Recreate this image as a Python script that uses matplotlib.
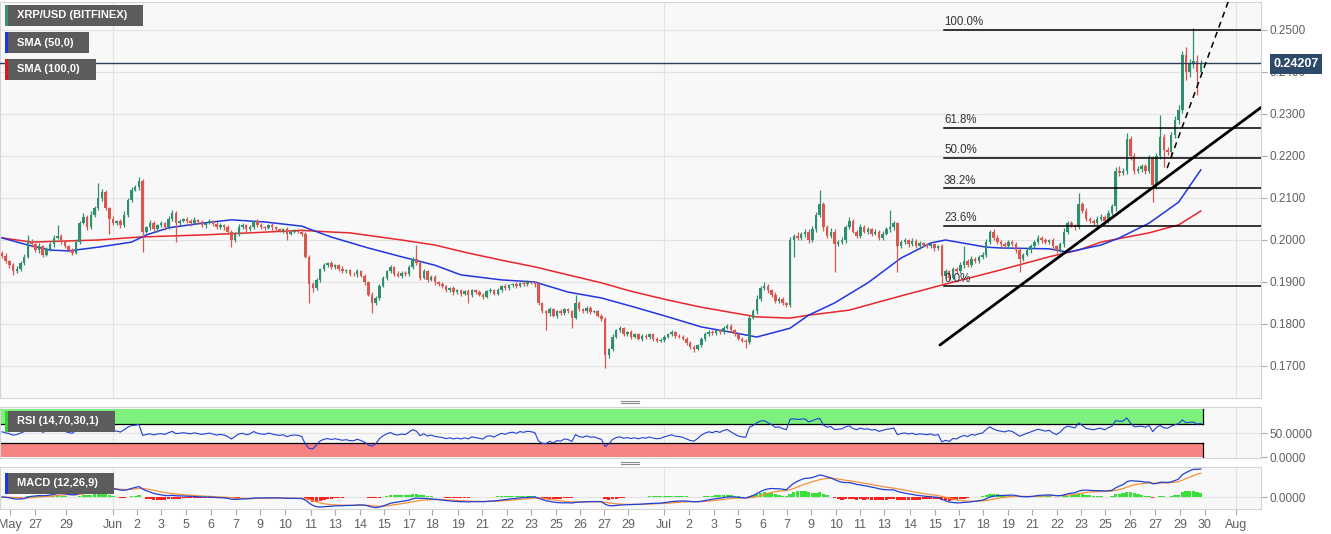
import numpy as np
import pandas as pd
import matplotlib
matplotlib.use("Agg")
import matplotlib.pyplot as plt
from matplotlib.patches import Rectangle

# XRP/USD closes, in pips (1e-4 USD), one per candle
close_pips = [
    1962, 1950, 1940, 1925, 1930, 1945, 1960, 1998, 1990, 1975, 1985, 1965, 1978, 1990, 2005, 2010, 1995, 1985, 1975, 1970, 1995, 2040, 2055, 2030, 2060,
    2075, 2100, 2115, 2075, 2050, 2040, 2045, 2035, 2060, 2095, 2120, 2125, 2140, 2020, 2030, 2040, 2025, 2035, 2040, 2030, 2050, 2065, 2040, 2045, 2050,
    2045, 2040, 2048, 2042, 2035, 2040, 2045, 2038, 2030, 2035, 2030, 2020, 2000, 2015, 2030, 2035, 2025, 2030, 2045, 2035, 2030, 2028, 2035, 2030, 2025,
    2022, 2025, 2015, 2020, 2022, 2020, 2015, 1960, 1895, 1885, 1905, 1930, 1940, 1945, 1935, 1940, 1932, 1925, 1928, 1920, 1918, 1925, 1915, 1900, 1870,
    1850, 1862, 1890, 1910, 1925, 1935, 1920, 1915, 1922, 1918, 1935, 1955, 1945, 1910, 1925, 1905, 1912, 1900, 1895, 1890, 1880, 1885, 1875, 1880, 1872,
    1878, 1870, 1880, 1875, 1870, 1865, 1878, 1880, 1872, 1882, 1890, 1885, 1892, 1895, 1890, 1898, 1895, 1900, 1898, 1895, 1850, 1830, 1825, 1835, 1820,
    1830, 1825, 1835, 1830, 1815, 1850, 1835, 1830, 1838, 1828, 1830, 1820, 1812, 1725, 1740, 1770, 1785, 1790, 1775, 1780, 1770, 1775, 1765, 1772, 1768,
    1775, 1765, 1760, 1762, 1770, 1775, 1780, 1772, 1770, 1765, 1755, 1745, 1740, 1750, 1765, 1775, 1782, 1778, 1785, 1780, 1790, 1795, 1785, 1775, 1765,
    1760, 1758, 1815, 1830, 1860, 1885, 1890, 1880, 1870, 1855, 1860, 1850, 1845, 2000, 2010, 2005, 2015, 2020, 2000, 2025, 2060, 2085, 2030, 2010, 2020,
    1990, 1995, 2000, 2030, 2045, 2020, 2010, 2030, 2020, 2025, 2015, 2020, 2005, 2015, 2025, 2030, 2040, 1985, 1995, 2000, 1990, 1998, 1985, 1992, 1988,
    1985, 1990, 1980, 1985, 1915, 1925, 1910, 1930, 1925, 1940, 1950, 1940, 1955, 1950, 1960, 1965, 1995, 2020, 2005, 1995, 1990, 1985, 1995, 1990, 1975,
    1955, 1965, 1975, 1985, 1995, 2005, 2000, 1995, 2000, 1985, 1975, 1990, 2020, 2040, 2035, 2030, 2085, 2070, 2050, 2045, 2040, 2050, 2055, 2045, 2065,
    2080, 2165, 2160, 2165, 2240, 2200, 2165, 2170, 2175, 2165, 2195, 2130, 2200, 2245, 2215, 2210, 2250, 2285, 2310, 2440, 2400, 2420, 2425, 2400, 2421,
]
first_open_pips = 1970

# wick length above / below the body, pips
hi_wick = [
    4, 6, 3, 5, 8, 4, 6, 14, 5, 4, 7, 3, 6, 5, 8, 26, 4, 6, 3, 5, 7, 6, 9, 5, 8,
    6, 36, 7, 5, 4, 6, 3, 5, 8, 6, 7, 5, 10, 6, 4, 8, 5, 3, 6, 4, 7, 6, 5, 4, 3,
    5, 4, 6, 3, 5, 4, 6, 3, 4, 5, 3, 6, 4, 5, 7, 5, 3, 6, 3, 4, 5, 3, 4, 6, 3,
    4, 3, 5, 3, 4, 3, 5, 3, 4, 6, 5, 4, 6, 3, 5, 4, 3, 5, 4, 3, 4, 6, 3, 4, 3,
    5, 4, 6, 5, 4, 6, 3, 5, 4, 3, 6, 5, 33, 4, 6, 3, 5, 4, 3, 5, 4, 3, 5, 4, 3,
    4, 5, 3, 4, 5, 3, 4, 5, 3, 4, 3, 5, 4, 3, 4, 3, 5, 4, 3, 4, 5, 3, 4, 6, 3,
    4, 5, 3, 4, 3, 19, 4, 3, 5, 4, 3, 4, 3, 5, 4, 6, 4, 5, 3, 4, 5, 3, 4, 3, 4,
    3, 4, 3, 5, 4, 3, 5, 4, 3, 4, 3, 5, 4, 3, 4, 5, 3, 4, 3, 4, 5, 5, 4, 3, 4,
    3, 4, 6, 5, 8, 6, 10, 5, 4, 6, 5, 4, 3, 6, 5, 8, 4, 6, 5, 9, 7, 34, 6, 5, 8,
    6, 5, 8, 6, 9, 5, 4, 7, 5, 6, 4, 5, 3, 6, 5, 41, 5, 4, 6, 5, 3, 6, 4, 5, 3,
    4, 5, 3, 4, 6, 5, 4, 6, 5, 8, 35, 5, 6, 4, 5, 6, 8, 4, 5, 6, 4, 5, 6, 4, 5,
    5, 4, 6, 5, 4, 6, 5, 4, 3, 5, 4, 6, 8, 5, 6, 4, 27, 5, 6, 4, 5, 6, 8, 5, 6,
    6, 8, 10, 7, 15, 8, 6, 5, 7, 6, 8, 5, 6, 53, 7, 6, 8, 10, 12, 10, 20, 12, 80, 15, 8,
]
lo_wick = [
    5, 4, 6, 8, 3, 5, 4, 3, 6, 4, 5, 5, 3, 4, 6, 3, 5, 4, 3, 6, 4, 5, 3, 6, 4,
    5, 4, 6, 3, 35, 5, 4, 6, 3, 5, 4, 3, 5, 49, 4, 6, 3, 5, 4, 6, 3, 4, 45, 5, 3,
    4, 6, 3, 5, 4, 6, 3, 5, 4, 3, 6, 5, 17, 4, 5, 3, 6, 4, 5, 3, 4, 5, 3, 6, 4,
    3, 5, 15, 4, 3, 4, 5, 3, 45, 8, 5, 4, 3, 5, 4, 3, 5, 4, 3, 6, 4, 5, 3, 6, 4,
    24, 5, 4, 3, 5, 4, 6, 3, 5, 4, 3, 4, 5, 6, 4, 5, 3, 6, 4, 5, 3, 4, 5, 3, 6,
    4, 20, 5, 3, 4, 6, 3, 5, 4, 3, 5, 4, 3, 5, 4, 3, 5, 4, 3, 6, 5, 4, 39, 5, 4,
    5, 4, 3, 5, 25, 4, 5, 3, 4, 5, 3, 4, 6, 30, 5, 4, 3, 5, 4, 3, 5, 4, 3, 5, 4,
    3, 5, 4, 3, 5, 4, 3, 5, 4, 3, 5, 4, 7, 3, 4, 5, 3, 4, 5, 3, 4, 3, 5, 4, 3,
    4, 15, 5, 4, 6, 5, 4, 6, 5, 4, 6, 5, 4, 5, 40, 6, 5, 8, 6, 5, 7, 6, 8, 6, 5,
    66, 5, 4, 6, 5, 4, 6, 5, 4, 6, 5, 4, 6, 5, 4, 5, 6, 61, 5, 4, 6, 5, 4, 6, 5,
    4, 5, 6, 4, 17, 5, 6, 4, 5, 4, 6, 5, 4, 5, 4, 6, 5, 4, 5, 4, 6, 5, 4, 5, 6,
    31, 5, 4, 6, 5, 4, 6, 5, 4, 6, 5, 4, 6, 5, 4, 6, 5, 6, 5, 4, 6, 5, 4, 6, 5,
    6, 10, 8, 6, 8, 10, 8, 6, 7, 8, 6, 40, 8, 7, 41, 8, 7, 8, 10, 8, 20, 12, 10, 55, 8,
]

# moving averages (candle index, price)
sma50_idx = [0, 7, 13, 18, 26, 35, 39, 45, 54, 62, 71, 81, 89, 99, 108, 117, 124, 135, 144, 153, 162, 171,
             180, 189, 198, 204, 213, 218, 225, 234, 243, 251, 255, 266, 270, 283, 288, 297, 302, 310, 318, 324]
sma50_val = [0.2005, 0.1988, 0.1976, 0.1974, 0.1983, 0.1995, 0.2012, 0.2029, 0.2040, 0.2048, 0.2043, 0.2033,
             0.2007, 0.1981, 0.1960, 0.1940, 0.1917, 0.1905, 0.1900, 0.1876, 0.1862, 0.1840, 0.1817, 0.1793,
             0.1779, 0.1769, 0.1790, 0.1821, 0.1850, 0.1898, 0.1957, 0.1993, 0.2000, 0.1983, 0.1981, 0.1979,
             0.1971, 0.1988, 0.2005, 0.2040, 0.2090, 0.2167]
sma100_idx = [0, 8, 26, 37, 54, 67, 81, 89, 94, 108, 117, 126, 135, 144, 153, 162, 170, 180, 189, 198, 204,
              213, 218, 229, 243, 255, 270, 283, 291, 297, 310, 318, 324]
sma100_val = [0.2005, 0.1995, 0.2000, 0.2007, 0.2012, 0.2017, 0.2023, 0.2019, 0.2017, 0.2000, 0.1988, 0.1969,
              0.1952, 0.1936, 0.1917, 0.1898, 0.1878, 0.1857, 0.1840, 0.1826, 0.1817, 0.1814, 0.1821, 0.1833,
              0.1867, 0.1895, 0.1929, 0.1960, 0.1976, 0.1995, 0.2017, 0.2036, 0.2069]

# RSI averages carried in from before the first candle
rsi_seed_gain, rsi_seed_loss = 0.0012, 0.0010

last_price = 0.24207
fib_low, fib_high = 0.1890, 0.2500
fib_ratios = [1.0, 0.618, 0.5, 0.382, 0.236, 0.0]
fib_names = ["100.0%", "61.8%", "50.0%", "38.2%", "23.6%", "0.0%"]
trend_x, trend_y = [253.5, 340.5], [0.1750, 0.2317]
dash_x, dash_y = [314.9, 331.4], [0.2171, 0.2567]

tick_labels = ["May", "27", "29", "Jun", "2", "3", "5", "6", "7", "9", "10", "11", "13", "14", "15", "17", "18",
               "19", "21", "22", "23", "25", "26", "27", "29", "Jul", "2", "3", "5", "6", "7", "9", "10", "11",
               "13", "14", "15", "17", "18", "19", "21", "22", "23", "25", "26", "27", "29", "30", "Aug"]
tick_px = [10, 35, 66, 113, 137, 161, 186, 211, 236, 260, 285, 311, 335, 360, 384, 409, 432, 458, 482, 507, 531,
           556, 580, 604, 628, 664, 689, 714, 738, 763, 787, 811, 836, 860, 884, 910, 935, 959, 983, 1008, 1032,
           1057, 1081, 1105, 1130, 1155, 1180, 1205, 1236]
month_px = [113, 664, 1236]

# ---------------------------------------------------------------
W, H = 1331, 534
STEP, X0 = 3.7, 2.0          # pixels per candle, first candle pixel
PLOT_R = 1261                 # right edge of the panels


def fx(px):
    return px / W


def fy(py):
    return 1 - py / H


def px2i(px):
    return (np.asarray(px, float) - X0) / STEP


plt.rcParams['font.family'] = ['Liberation Sans', 'DejaVu Sans']

c = np.array(close_pips) / 1e4
o = np.r_[first_open_pips / 1e4, c[:-1]]
hi = np.maximum(o, c) + np.array(hi_wick) / 1e4
lo = np.minimum(o, c) - np.array(lo_wick) / 1e4
idx = np.arange(len(c))
n = len(c)

up_col, dn_col = "#2f8f6f", "#d9574f"
cols = np.where(c >= o, up_col, dn_col)

# RSI(14), Wilder smoothing
d = np.diff(np.r_[o[0], c])
ag, al = rsi_seed_gain, rsi_seed_loss
rsi = []
for dd in d:
    ag = (ag * 13 + max(dd, 0)) / 14
    al = (al * 13 + max(-dd, 0)) / 14
    rsi.append(100 - 100 / (1 + ag / al))
rsi = np.array(rsi)

s = pd.Series(c)
macd = s.ewm(span=12, adjust=False).mean() - s.ewm(span=26, adjust=False).mean()
sig = macd.ewm(span=9, adjust=False).mean()
hist = macd - sig

fig = plt.figure(figsize=(W / 100, H / 100), dpi=100)
fig.patch.set_facecolor("white")

xlim = (px2i(0), px2i(PLOT_R))
bg = "#f8f8f8"
grid = "#e3e3e3"
spine = "#d4d4d4"
lab = "#606060"

ax = fig.add_axes([0, fy(398), PLOT_R / W, 396 / H])
ax_r = fig.add_axes([0, fy(458), PLOT_R / W, 51 / H])
ax_m = fig.add_axes([0, fy(509), PLOT_R / W, 42 / H])

for a in (ax, ax_r, ax_m):
    a.set_facecolor(bg)
    a.set_xlim(*xlim)
    for sp in a.spines.values():
        sp.set_color(spine)
        sp.set_linewidth(0.8)
    a.yaxis.tick_right()
    a.tick_params(axis='y', length=4, color="#aaaaaa", labelcolor=lab, labelsize=8.5, pad=2)
    for m in month_px:
        a.axvline(px2i(m), color=grid, lw=0.8, zorder=0)
    a.set_xticks([])

# ---- price panel
ax.set_ylim(0.25 - (398 - 30) / 4200, 0.25 + 28 / 4200)
yt = np.arange(0.17, 0.2501, 0.01)
ax.set_yticks(yt)
ax.set_yticklabels([f"{v:.4f}" for v in yt])
for v in yt:
    ax.axhline(v, color=grid, lw=0.8, zorder=0)

ax.plot(sma100_idx, sma100_val, color="#e8262b", lw=1.1, zorder=2)
ax.plot(sma50_idx, sma50_val, color="#2036e0", lw=1.1, zorder=2)

ax.vlines(idx, lo, hi, colors=cols, lw=0.9, zorder=3)
ax.bar(idx, np.maximum(np.abs(c - o), 0.00005), bottom=np.minimum(o, c), width=0.7,
       color=cols, linewidth=0, zorder=4)

ax.axhline(last_price, color="#2b3f5c", lw=1.0, zorder=5)

fib_x0 = px2i(944)
for r, name in zip(fib_ratios, fib_names):
    lvl = fib_low + r * (fib_high - fib_low)
    ax.plot([fib_x0, xlim[1]], [lvl, lvl], color="black", lw=1.1, zorder=5)
    ax.text(fib_x0, lvl + 0.0004, name, fontsize=8.3, color="#333333", ha="left", va="bottom", zorder=6)

ax.plot(trend_x, trend_y, color="black", lw=2.0, zorder=6, solid_capstyle="round")
ax.plot(dash_x, dash_y, color="black", lw=1.1, ls=(0, (4, 3)), zorder=6)

# ---- RSI panel
ax_r.set_ylim(-0.5 / 0.48, 100 + 2 / 0.48)
ax_r.set_yticks([0, 50])
ax_r.set_yticklabels(["0.0000", "50.0000"])
ax_r.axhline(50, color=grid, lw=0.8, zorder=0)
band_r = n - 0.5
ax_r.add_patch(Rectangle((xlim[0], 70), band_r - xlim[0], 30, fc="#7ef07e", ec="none", zorder=1))
ax_r.add_patch(Rectangle((xlim[0], 0), band_r - xlim[0], 30, fc="#f78383", ec="none", zorder=1))
ax_r.plot([xlim[0], band_r], [70, 70], color="black", lw=0.9, zorder=2)
ax_r.plot([xlim[0], band_r], [30, 30], color="black", lw=0.9, zorder=2)
ax_r.plot([band_r, band_r], [70, 100], color="black", lw=0.9, zorder=2)
ax_r.plot([band_r, band_r], [0, 30], color="black", lw=0.9, zorder=2)
ax_r.plot(idx, rsi, color="#1f3fd6", lw=0.8, zorder=3)

# ---- MACD panel
top = np.nanmax(macd) * 30 / 28
ax_m.set_ylim(-top * 12 / 30, top)
ax_m.set_yticks([0])
ax_m.set_yticklabels(["0.0000"])
ax_m.axhline(0, color=grid, lw=0.8, zorder=0)
hcol = np.where(hist >= 0, "#3ae03a", "#ff2020")
ax_m.bar(idx, hist, width=0.9, color=hcol, linewidth=0, zorder=2)
ax_m.plot(idx, sig, color="#f5913a", lw=0.9, zorder=3)
ax_m.plot(idx, macd, color="#1f3fd6", lw=0.9, zorder=4)

ax_m.set_xticks(px2i(tick_px))
ax_m.set_xticklabels(tick_labels)
ax_m.tick_params(axis='x', length=4, color="#aaaaaa", labelcolor=lab, labelsize=9, pad=3)


# ---- legend tags
def tag(x, y, w, h, text, stripe):
    fig.patches.append(Rectangle((fx(x), fy(y + h)), w / W, h / H, transform=fig.transFigure,
                                 fc="#5c5c5c", ec="none", zorder=8))
    fig.patches.append(Rectangle((fx(x), fy(y + h)), 3 / W, h / H, transform=fig.transFigure,
                                 fc=stripe, ec="none", zorder=9))
    fig.text(fx(x + 12), fy(y + h / 2), text, color="white", fontsize=8, fontweight="bold",
             ha="left", va="center", zorder=10)


tag(5, 5, 138, 21, "XRP/USD (BITFINEX)", "#3f8f73")
tag(5, 32, 84, 21, "SMA (50,0)", "#1a36e8")
tag(5, 59, 91, 21, "SMA (100,0)", "#e01818")
tag(5, 411, 110, 21, "RSI (14,70,30,1)", "#35d035")
tag(5, 473, 109, 21, "MACD (12,26,9)", "#1a36e8")

# current price label
fig.text(fx(1296), fy(64), f"{last_price:.5f}", color="white", fontsize=9, fontweight="bold",
         ha="center", va="center", zorder=10,
         bbox=dict(boxstyle="square,pad=0.3", fc="#2d4a6b", ec="none"))

# panel resize handles
for yy in (400.5, 403, 461.5, 464):
    fig.add_artist(plt.Line2D([fx(621), fx(639)], [fy(yy), fy(yy)], color="#8a8a8a", lw=0.8))

fig.savefig("out.png", dpi=100)
